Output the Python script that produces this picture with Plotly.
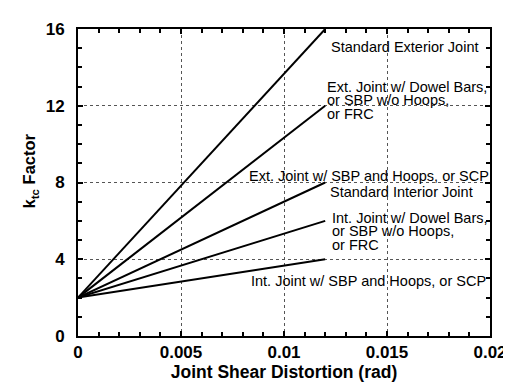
import plotly.graph_objects as go

# Data: each line runs from (0, 2) to (0.012, k_end)
series_names = ["Standard Exterior Joint",
                "Ext. Joint w/ Dowel Bars, or SBP w/o Hoops, or FRC",
                "Ext. Joint w/ SBP and Hoops, or SCP / Standard Interior Joint",
                "Int. Joint w/ Dowel Bars, or SBP w/o Hoops, or FRC",
                "Int. Joint w/ SBP and Hoops, or SCP"]
gamma = [0.0, 0.012]
k_start = [2, 2, 2, 2, 2]
k_end = [16, 12, 8, 6, 4]

x_ticks = [0, 0.005, 0.01, 0.015, 0.02]
x_tick_labels = ["0", "0.005", "0.01", "0.015", "0.02"]
y_ticks = [0, 4, 8, 12, 16]
y_tick_labels = ["0", "4", "8", "12", "16"]

# Curve labels, one entry per text line
label_texts = ["Standard Exterior Joint",
               "Ext. Joint w/ Dowel Bars,", "or SBP w/o Hoops,", "or FRC",
               "Ext. Joint w/ SBP and Hoops, or SCP",
               "Standard Interior Joint",
               "Int. Joint w/ Dowel Bars,", "or SBP w/o Hoops,", "or FRC",
               "Int. Joint w/ SBP and Hoops, or SCP"]
label_x = [0.01953, 0.01206, 0.01206, 0.01206, 0.0200, 0.0122,
           0.0123, 0.0123, 0.0123, 0.01986]
label_y = [15.08, 13.0, 12.28, 11.56, 8.33, 7.53, 6.15, 5.45, 4.75, 2.86]
label_anchor = ["right", "left", "left", "left", "right", "left",
                "left", "left", "left", "right"]

fig = go.Figure()
for name, k0, k1 in zip(series_names, k_start, k_end):
    fig.add_trace(go.Scatter(x=gamma, y=[k0, k1], mode="lines", name=name,
                             line=dict(color="black", width=2), showlegend=False))

font_family = "Liberation Sans, Arial, sans-serif"
for t, x, y, xa in zip(label_texts, label_x, label_y, label_anchor):
    fig.add_annotation(x=x, y=y, xref="x", yref="y", text=t, showarrow=False,
                       xanchor=xa, yanchor="middle", align="left",
                       borderpad=0,
                       font=dict(family=font_family, size=14.5, color="black"))

W, H = 511, 383
ml, mr, mt, mb = 70, 18, 20, 50

# y-axis title as rotated annotation (paper coords span the plot area)
fig.add_annotation(x=(21 - ml) / (W - ml - mr), y=(H - mb - 165) / (H - mt - mb),
                   xref="paper", yref="paper", text="k<sub>tc</sub> Factor",
                   showarrow=False, textangle=-90, xanchor="center", yanchor="middle",
                   font=dict(family=font_family, size=16.5, color="black", weight="bold"))

axis_common = dict(showline=True, linecolor="black", linewidth=2, mirror="allticks",
                   ticks="inside", ticklen=5, tickwidth=1.5, tickcolor="black",
                   showgrid=True, gridcolor="#555555", gridwidth=1, griddash="dot",
                   zeroline=False,
                   tickfont=dict(family=font_family, size=17, color="black", weight="bold"))

fig.update_xaxes(range=[0, 0.02], tickvals=x_ticks, ticktext=x_tick_labels,
                 minor=dict(dtick=0.001, ticks="inside", ticklen=4, tickcolor="black", showgrid=False),
                 title=dict(text="Joint Shear Distortion (rad)", standoff=4,
                            font=dict(family=font_family, size=17.5, color="black", weight="bold")),
                 **axis_common)
fig.update_yaxes(range=[0, 16], tickvals=y_ticks, ticktext=y_tick_labels,
                 ticklabelstandoff=8,
                 minor=dict(dtick=1, ticks="inside", ticklen=4, tickcolor="black", showgrid=False),
                 **axis_common)

fig.update_layout(width=W, height=H, margin=dict(l=ml, r=mr, t=mt, b=mb),
                  paper_bgcolor="white", plot_bgcolor="white",
                  font=dict(family=font_family, color="black"))

fig.write_html("out.html")
